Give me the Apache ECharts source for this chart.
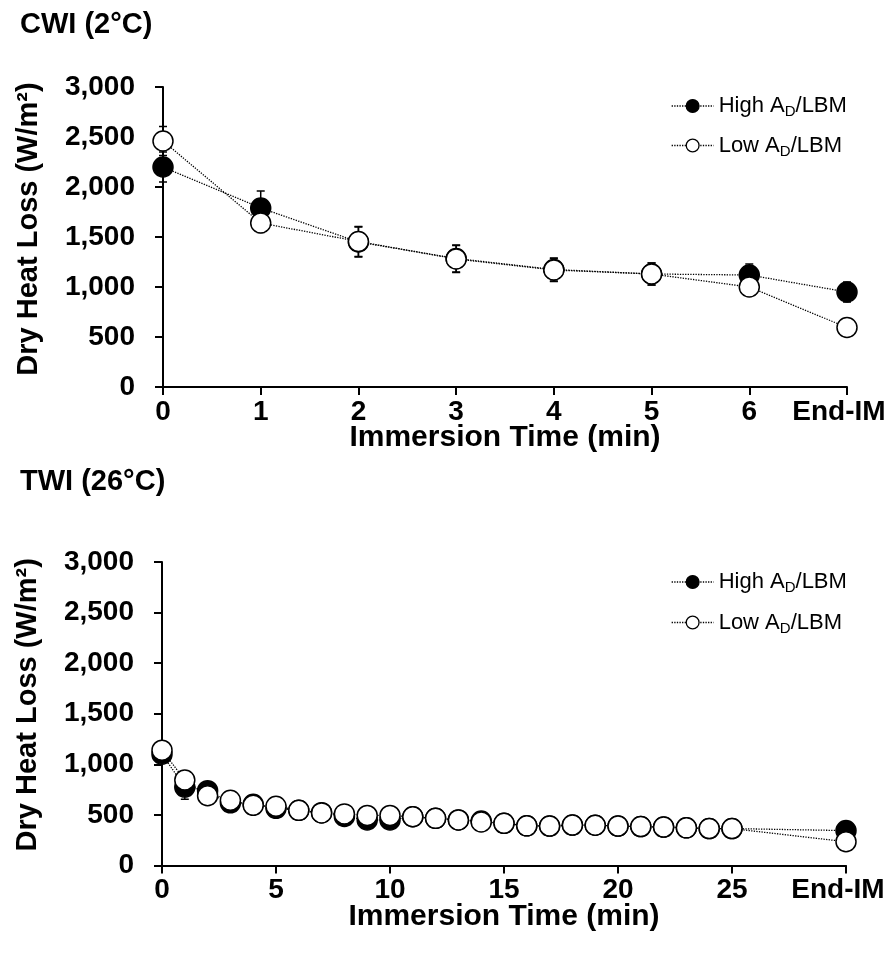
<!DOCTYPE html>
<html>
<head>
<meta charset="utf-8">
<script src="https://cdn.jsdelivr.net/npm/echarts@6/dist/echarts.min.js"></script>
<style>
html,body{margin:0;padding:0;background:#fff;}
#chart{width:891px;height:954px;}
</style>
</head>
<body>
<div id="chart"></div>
<script>
// ---- Data ----
// CWI (2°C): time points (7 = End-IM)
const cwiTimes = [0, 1, 2, 3, 4, 5, 6, 7];
const cwiHigh = [2200, 1790, 1450, 1285, 1175, 1130, 1120, 950];
const cwiHighSD = [150, 170, 150, 135, 115, 110, 110, 100];
const cwiLow = [2460, 1640, 1455, 1280, 1170, 1130, 1000, 595];
const cwiLowSD = [145, 95, 150, 135, 115, 110, 80, 60];

// TWI (26°C): time points (30 = End-IM)
const twiTimes = [0, 1, 2, 3, 4, 5, 6, 7, 8, 9, 10, 11, 12, 13, 14, 15, 16, 17, 18, 19, 20, 21, 22, 23, 24, 25, 30];
const twiHigh = [1100, 775, 740, 620, 605, 565, 545, 522, 485, 450, 450, 482, 466, 450, 440, 417, 392, 390, 400, 398, 390, 385, 380, 372, 365, 365, 345];
const twiHighSD = [60, 120, 60, 60, 60, 60, 60, 60, 60, 60, 60, 60, 60, 60, 60, 60, 60, 60, 60, 60, 60, 60, 60, 60, 60, 60, 60];
const twiLow = [1140, 845, 690, 645, 595, 585, 545, 520, 510, 495, 495, 482, 466, 450, 430, 417, 392, 390, 400, 398, 390, 385, 380, 372, 365, 365, 235];
const twiLowSD = [60, 60, 60, 60, 60, 60, 60, 60, 60, 60, 60, 60, 60, 60, 60, 60, 60, 60, 60, 60, 60, 60, 60, 60, 60, 60, 60];

const yTicks = [0, 500, 1000, 1500, 2000, 2500, 3000];
const seriesNames = ['High A{sub|D}/LBM', 'Low A{sub|D}/LBM'];
const titles = ['CWI (2°C)', 'TWI (26°C)'];
const yName = 'Dry Heat Loss (W/m²)';
const xName = 'Immersion Time (min)';
const endLabel = 'End-IM';

// ---- Chart ----
const FONT = '"Liberation Sans", Arial, sans-serif';
const chart = echarts.init(document.getElementById('chart'), null, {renderer: 'canvas'});

function pairs(times, vals) { return times.map((t, i) => [t, vals[i]]); }

function errSeries(xi, times, vals, sds) {
  return {
    type: 'custom', xAxisIndex: xi, yAxisIndex: xi, z: 1, silent: true,
    encode: {x: 0, y: [1, 2]},
    data: times.map((t, i) => [t, vals[i] - sds[i], vals[i] + sds[i]]),
    renderItem: function (params, api) {
      const x = api.value(0);
      const lo = api.coord([x, api.value(1)]);
      const hi = api.coord([x, api.value(2)]);
      const hw = 4;
      const style = {stroke: '#000', lineWidth: 1.5};
      return {type: 'group', children: [
        {type: 'line', shape: {x1: lo[0], y1: lo[1], x2: hi[0], y2: hi[1]}, style: style},
        {type: 'line', shape: {x1: lo[0] - hw, y1: lo[1], x2: lo[0] + hw, y2: lo[1]}, style: style},
        {type: 'line', shape: {x1: hi[0] - hw, y1: hi[1], x2: hi[0] + hw, y2: hi[1]}, style: style}
      ]};
    }
  };
}

function lineSeries(name, xi, times, vals, fill, z) {
  return {
    name: name, type: 'line', xAxisIndex: xi, yAxisIndex: xi, z: z,
    data: pairs(times, vals),
    symbol: 'circle', symbolSize: 20,
    lineStyle: {type: 'dotted', width: 1.3, color: '#000'},
    itemStyle: {color: fill, borderColor: '#000', borderWidth: 1.5},
    emphasis: {disabled: true}
  };
}

const axisLineStyle = {show: true, lineStyle: {color: '#000', width: 2}};
const tickStyle = {show: true, inside: false, length: 8, lineStyle: {color: '#000', width: 2}};

function xAxis(gi, max, interval) {
  return {
    type: 'value', gridIndex: gi, min: 0, max: max, interval: interval,
    axisLine: axisLineStyle, axisTick: tickStyle, splitLine: {show: false},
    axisLabel: {fontFamily: FONT, fontSize: 28, fontWeight: 'bold', color: '#000', margin: 11,
      formatter: v => (v === max ? '{e|' + endLabel + '}' : String(v)), showMaxLabel: true,
      rich: {e: {fontFamily: FONT, fontSize: 28, fontWeight: 'bold', color: '#000', padding: [0, 16, 0, 0]}}},
    name: xName, nameLocation: 'middle', nameGap: 36, nameMoveOverlap: false,
    nameTextStyle: {fontFamily: FONT, fontSize: 30, fontWeight: 'bold', color: '#000'}
  };
}
function yAxis(gi, shift) {
  return {
    type: 'value', gridIndex: gi, min: 0, max: 3000, interval: 500,
    axisLine: axisLineStyle, axisTick: tickStyle, splitLine: {show: false},
    axisLabel: {fontFamily: FONT, fontSize: 28, fontWeight: 'bold', color: '#000', margin: 28,
      formatter: v => v.toLocaleString('en-US')},
    name: yName, nameLocation: 'middle', nameGap: 120, nameRotate: 90, nameMoveOverlap: false,
    nameTextStyle: {fontFamily: FONT, fontSize: 29, fontWeight: 'bold', color: '#000', padding: [0, 0, 0, shift]}
  };
}

function legend(top, gap) {
  return {
    orient: 'vertical', left: 666, top: top, itemGap: gap, itemWidth: 42, itemHeight: 16, itemTextGap: 8,
    data: seriesNames.map(n => ({name: n})),
    lineStyle: {type: 'dotted', width: 1.3, color: '#000'},
    itemStyle: {borderColor: '#000', borderWidth: 1.3},
    selectedMode: false,
    textStyle: {fontFamily: FONT, fontSize: 22, color: '#000',
      rich: {sub: {fontFamily: FONT, fontSize: 15, color: '#000', padding: [12, 0, 0, 0]}}}
  };
}

const option = {
  animation: false,
  backgroundColor: '#fff',
  title: [
    {text: titles[0], left: 20, top: 10, padding: 0, textStyle: {fontFamily: FONT, fontSize: 29, fontWeight: 'bold', color: '#000'}},
    {text: titles[1], left: 20, top: 467, padding: 0, textStyle: {fontFamily: FONT, fontSize: 29, fontWeight: 'bold', color: '#000'}}
  ],
  legend: [legend(90, 15), legend(566, 16)],
  grid: [
    {left: 163, right: 44, top: 87, height: 300, containLabel: false},
    {left: 162, right: 45, top: 562, height: 303.5, containLabel: false}
  ],
  xAxis: [xAxis(0, 7, 1), xAxis(1, 30, 5)],
  yAxis: [yAxis(0, 16), yAxis(1, 18)],
  series: [
    errSeries(0, cwiTimes, cwiHigh, cwiHighSD),
    errSeries(0, cwiTimes, cwiLow, cwiLowSD),
    lineSeries(seriesNames[0], 0, cwiTimes, cwiHigh, '#000', 2),
    lineSeries(seriesNames[1], 0, cwiTimes, cwiLow, '#fff', 3),
    errSeries(1, twiTimes, twiHigh, twiHighSD),
    errSeries(1, twiTimes, twiLow, twiLowSD),
    lineSeries(seriesNames[0], 1, twiTimes, twiHigh, '#000', 2),
    lineSeries(seriesNames[1], 1, twiTimes, twiLow, '#fff', 3)
  ]
};
chart.setOption(option);
</script>
</body>
</html>
